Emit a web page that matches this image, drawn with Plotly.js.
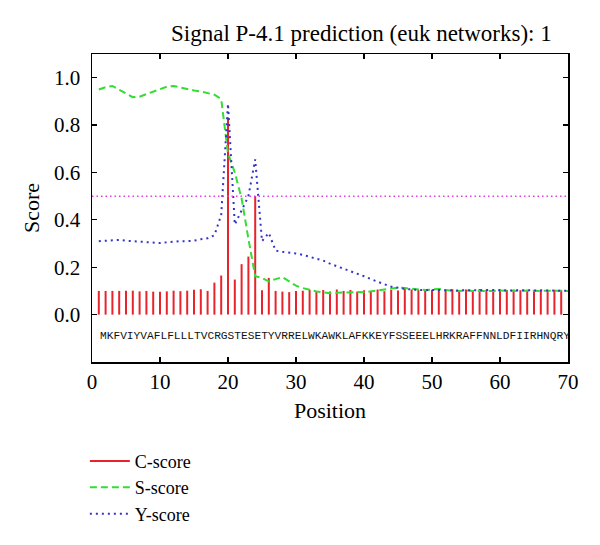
<!DOCTYPE html>
<html>
<head>
<meta charset="utf-8">
<script src="https://cdn.plot.ly/plotly-3.0.1.min.js"></script>
<style>html,body{margin:0;padding:0;background:#fff;}#chart{width:600px;height:545px;}</style>
</head>
<body>
<div id="chart"></div>
<script>
var sequence = "MKFVIYVAFLFLLLTVCRGSTESETYVRRELWKAWKLAFKKEYFSSEEELHRKRAFFNNLDFIIRHNQRY";
var positions = [1,2,3,4,5,6,7,8,9,10,11,12,13,14,15,16,17,18,19,20,
  21,22,23,24,25,26,27,28,29,30,31,32,33,34,35,36,37,38,39,40,
  41,42,43,44,45,46,47,48,49,50,51,52,53,54,55,56,57,58,59,60,
  61,62,63,64,65,66,67,68,69,70];
var cScore = [0.100,0.100,0.100,0.100,0.101,0.101,0.098,0.100,0.097,0.097,
  0.098,0.101,0.099,0.101,0.105,0.107,0.100,0.135,0.165,0.832,
  0.148,0.213,0.245,0.500,0.103,0.155,0.100,0.097,0.095,0.100,
  0.101,0.105,0.100,0.104,0.098,0.106,0.100,0.104,0.097,0.103,
  0.100,0.106,0.099,0.104,0.102,0.110,0.106,0.104,0.108,0.105,
  0.108,0.104,0.107,0.103,0.106,0.104,0.108,0.105,0.103,0.107,
  0.104,0.106,0.103,0.105,0.104,0.106,0.103,0.105,0.104];
var sScore = [0.950,0.960,0.965,0.950,0.935,0.918,0.920,0.930,0.942,0.952,
  0.962,0.965,0.958,0.950,0.946,0.942,0.936,0.928,0.910,0.680,
  0.600,0.490,0.320,0.162,0.155,0.140,0.150,0.158,0.140,0.122,
  0.112,0.104,0.098,0.094,0.090,0.092,0.094,0.096,0.095,0.094,
  0.098,0.102,0.106,0.110,0.114,0.112,0.108,0.106,0.104,0.106,
  0.108,0.104,0.100,0.100,0.102,0.100,0.100,0.098,0.100,0.102,
  0.100,0.100,0.101,0.100,0.099,0.100,0.101,0.100,0.099,0.100];
var yScore = [0.310,0.312,0.312,0.315,0.312,0.310,0.308,0.306,0.305,0.302,
  0.305,0.308,0.310,0.310,0.312,0.318,0.322,0.335,0.420,0.890,
  0.380,0.440,0.500,0.655,0.310,0.345,0.270,0.265,0.262,0.258,
  0.252,0.245,0.236,0.228,0.215,0.205,0.195,0.185,0.172,0.162,
  0.150,0.138,0.128,0.118,0.112,0.109,0.106,0.104,0.103,0.104,
  0.103,0.102,0.103,0.102,0.103,0.102,0.103,0.104,0.102,0.103,
  0.102,0.103,0.102,0.103,0.102,0.101,0.102,0.101,0.101,0.101];
var threshold = 0.5;
var xTicks = [0,10,20,30,40,50,60,70];
var yTicks = [0,0.2,0.4,0.6,0.8,1.0];
var yTickText = ["0.0","0.2","0.4","0.6","0.8","1.0"];

var cx = [], cy = [];
for (var i = 0; i < cScore.length; i++) {
  cx.push(positions[i], positions[i], null);
  cy.push(0, cScore[i], null);
}

var serif = "Liberation Serif, Times New Roman, serif";
var traces = [
  {x: cx, y: cy, mode: "lines", name: "C-score", line: {color: "#e8232b", width: 2}, hoverinfo: "skip"},
  {x: positions, y: sScore, mode: "lines", name: "S-score", line: {color: "#33dd33", width: 2, dash: "7px,4px"}},
  {x: positions, y: yScore, mode: "lines", name: "Y-score", line: {color: "#3333cc", width: 2, dash: "2px,4px"}}
];

var axisCommon = {
  showline: true, linecolor: "#000", linewidth: 1.5, mirror: "ticks",
  ticks: "inside", ticklen: 5, tickwidth: 1.2, tickcolor: "#000",
  showgrid: false, zeroline: false,
  tickfont: {family: serif, size: 21, color: "#000"}
};

var layout = {
  width: 600, height: 545,
  margin: {l: 92, r: 32, t: 54, b: 175},
  paper_bgcolor: "#fff", plot_bgcolor: "#fff",
  title: {text: "Signal P-4.1 prediction (euk networks): 1", font: {family: serif, size: 23, color: "#000"},
    xref: "paper", x: 0.566, xanchor: "center", yref: "container", y: 0.94, yanchor: "middle"},
  xaxis: Object.assign({}, axisCommon, {range: [0, 70], tickvals: xTicks,
    title: {text: "Position", font: {family: serif, size: 22, color: "#000"}, standoff: 10}}),
  yaxis: Object.assign({}, axisCommon, {range: [-0.2, 1.1], tickvals: yTicks, ticktext: yTickText,
    ticklabelstandoff: 6,
    title: {text: "Score", font: {family: serif, size: 22, color: "#000"}, standoff: 8}}),
  shapes: [{type: "line", xref: "x", yref: "y", x0: 0, x1: 70, y0: threshold, y1: threshold,
    line: {color: "#e040e0", width: 1.5, dash: "1.5px,3px"}}],
  annotations: [{text: sequence, xref: "x", yref: "y", x: 0.88, y: -0.09, xanchor: "left", yanchor: "middle",
    showarrow: false, font: {family: "Liberation Mono, Courier New, monospace", size: 11.2, color: "#111"}}],
  showlegend: true,
  legend: {x: -0.015, xanchor: "left", y: -0.262, yanchor: "top", orientation: "v",
    font: {family: serif, size: 18, color: "#000"}, bgcolor: "rgba(0,0,0,0)", itemwidth: 40, tracegroupgap: 0}
};

Plotly.newPlot("chart", traces, layout, {staticPlot: true});
</script>
</body>
</html>
